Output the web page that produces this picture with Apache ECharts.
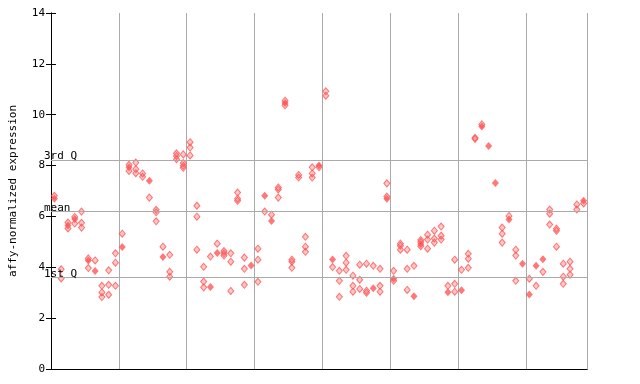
<!DOCTYPE html>
<html>
<head>
<meta charset="utf-8">
<script src="https://cdn.jsdelivr.net/npm/echarts@6/dist/echarts.min.js"></script>
<style>html,body{margin:0;padding:0;background:#fff}#c{width:640px;height:384px}</style>
</head>
<body>
<div id="c"></div>
<script>
// Open (hollow) replicate points per sample column
const openPoints = [
  [6.81], [3.92, 3.56], [5.76, 5.53], [5.98, 5.72], [6.19, 5.75, 5.56],
  [4.35, 3.97], [4.27], [3.27, 3.01, 2.83], [3.88, 3.31, 2.92], [4.55, 4.18, 3.27],
  [5.32], [8.03, 7.79], [8.12, 7.86, 7.70], [7.69, 7.56], [6.74],
  [6.26, 6.16, 5.81], [4.81], [4.49, 3.82, 3.63], [8.48, 8.38, 8.25], [8.44, 8.10, 7.99, 7.91],
  [8.92, 8.71, 8.40], [6.42, 5.99, 4.69], [4.02, 3.44, 3.21], [4.42], [4.93],
  [4.64, 4.55, 4.46], [4.55, 4.22, 3.07], [6.94, 6.70, 6.62], [4.38, 3.94, 3.31], [],
  [4.73, 4.30, 3.43], [6.19], [6.07], [7.14, 7.06, 6.74], [10.55, 10.37],
  [4.30, 4.22, 3.98], [7.63, 7.53], [5.20, 4.81, 4.61], [7.93, 7.69, 7.53], [7.93],
  [10.92, 10.75], [4.01], [3.86, 3.47, 2.84], [4.45, 4.18, 3.90], [3.67, 3.27, 3.04],
  [4.10, 3.51, 3.15], [4.14, 3.08, 3.00], [4.06], [3.94, 3.27, 3.04], [7.30, 6.78],
  [3.86, 3.47], [4.93, 4.85, 4.69], [4.69, 3.94, 3.11], [4.06], [5.07, 4.99, 4.83],
  [5.28, 5.09, 4.73], [5.44, 5.13, 4.97], [5.60, 5.24, 5.09], [3.27], [4.30, 3.35, 3.04],
  [3.90], [4.53, 4.34, 3.98], [9.09, 9.05], [9.62], [],
  [], [5.56, 5.32, 4.97], [6.02], [4.69, 4.46, 3.47], [],
  [3.55], [3.27], [3.82], [6.27, 6.11, 5.68], [5.52, 5.44, 4.81],
  [4.14, 3.63, 3.35], [4.22, 3.94, 3.71], [6.47, 6.27], [6.51]
];
// Solid points (overlapping replicates) per sample column
const solidPoints = [
  [6.70], [], [5.64], [5.90], [],
  [4.27], [3.85], [], [], [],
  [4.80], [7.93], [], [], [7.40],
  [], [4.40], [], [], [],
  [], [], [], [3.22], [4.56],
  [], [], [], [], [4.07],
  [], [6.81], [5.82], [], [10.46],
  [], [], [], [], [8.00],
  [], [4.31], [], [], [],
  [], [], [3.18], [], [6.70],
  [3.55], [], [], [2.86], [4.91],
  [], [], [], [3.02], [],
  [3.10], [], [], [9.54], [8.77],
  [7.31], [], [5.88], [], [4.14],
  [2.93], [4.06], [4.32], [], [],
  [], [], [], [6.62]
];
const quartileValues = [8.22, 6.20, 3.61];
const quartileLabels = ['3rd Q', 'mean', '1st Q'];
const yTicks = [0, 2, 4, 6, 8, 10, 12, 14];
const groupSize = 10;

const red = '#ff5555';
const mono = 'DejaVu Sans Mono';
function toXY(arr) {
  const out = [];
  arr.forEach((vals, i) => vals.forEach(v => out.push([i + 0.5, v])));
  return out;
}
const nCols = openPoints.length;
const chart = echarts.init(document.getElementById('c'), null, {renderer: 'canvas'});
chart.setOption({
  animation: false,
  grid: {left: 44, right: 53, top: 13, bottom: 15},
  xAxis: [
    {type: 'value', min: 0, max: nCols, interval: groupSize,
     axisLine: {show: true, onZero: false, lineStyle: {color: '#000', width: 1}},
     axisTick: {show: false}, axisLabel: {show: false},
     splitLine: {show: true, lineStyle: {color: '#aaa', width: 1}}},
    {type: 'value', position: 'top', min: 0, max: nCols,
     axisLine: {show: true, lineStyle: {color: '#000', width: 1}},
     axisTick: {show: false}, axisLabel: {show: false}, splitLine: {show: false}}
  ],
  yAxis: [
    {type: 'value', min: yTicks[0], max: yTicks[yTicks.length - 1], interval: 2,
     name: 'affy-normalized expression', nameLocation: 'middle', nameGap: 32,
     nameTextStyle: {fontFamily: mono, fontSize: 11, color: '#000'},
     axisLine: {show: true, lineStyle: {color: '#000', width: 1}},
     axisTick: {show: true, inside: true, length: 5, lineStyle: {color: '#000'}},
     axisLabel: {fontFamily: mono, fontSize: 11, color: '#000', margin: 6},
     splitLine: {show: false}},
    {type: 'value', position: 'right', min: yTicks[0], max: yTicks[yTicks.length - 1], interval: 2,
     axisLine: {show: true, lineStyle: {color: '#000', width: 1}},
     axisTick: {show: true, inside: true, length: 5, lineStyle: {color: '#000'}},
     axisLabel: {show: false}, splitLine: {show: false}}
  ],
  series: [
    {type: 'scatter', data: toXY(openPoints), symbol: 'diamond', symbolSize: [6, 7],
     itemStyle: {color: 'rgba(255,85,85,0.4)', borderColor: red, borderWidth: 1},
     markLine: {silent: true, symbol: 'none', animation: false,
       lineStyle: {color: '#aaa', width: 1, type: 'solid'},
       label: {show: true, position: 'insideStartTop', formatter: '{b}', distance: [-7, -2],
         fontFamily: mono, fontSize: 11, color: '#000'},
       emphasis: {disabled: true},
       data: quartileValues.map((v, i) => ({yAxis: v, name: quartileLabels[i]}))},
     z: 3},
    {type: 'scatter', data: toXY(solidPoints), symbol: 'diamond', symbolSize: [7, 8],
     itemStyle: {color: red}, z: 4}
  ]
});
</script>
</body>
</html>
